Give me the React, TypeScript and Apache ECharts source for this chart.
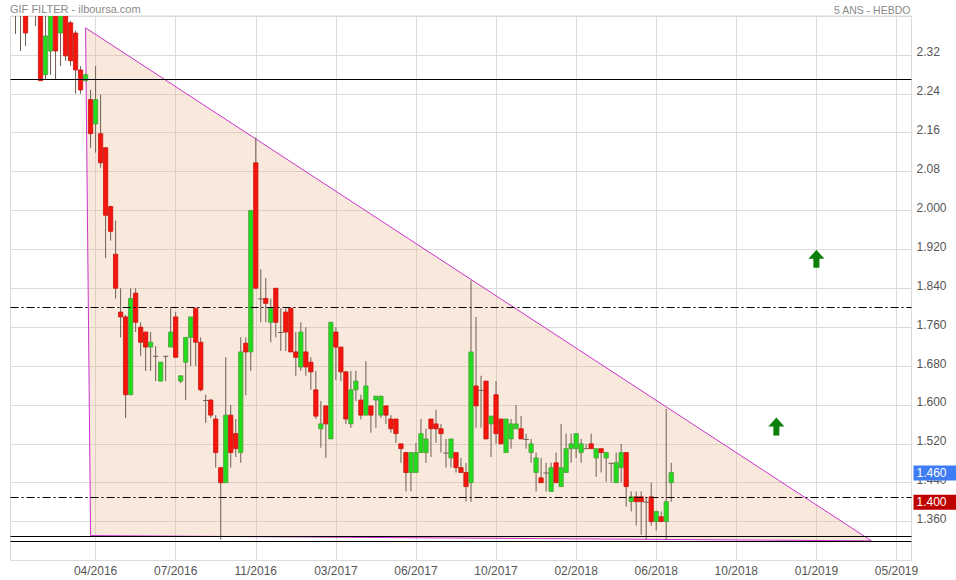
import React, { useEffect, useRef } from 'react';
import * as echarts from 'echarts';

// ---- data ----
const weekCount = 181; // weekly slots on the time axis (data + future space)
const firstLabelWeek = 17;
const labelEvery = 16;
const tickLabels = ['04/2016', '07/2016', '11/2016', '03/2017', '06/2017', '10/2017', '02/2018', '06/2018', '10/2018', '01/2019', '05/2019'];
const yTickStep = 0.08;
const yMin = 1.28;
const yMax = 2.4;

// weekly candles: [open, close, low, high]
const ohlc: number[][] = [
  [2.45, 2.42, 2.41, 2.47], [2.42, 2.41, 2.363, 2.45], [2.44, 2.42, 2.328, 2.46], [2.41, 2.365, 2.338, 2.43],
  [2.42, 2.45, 2.40, 2.47], [2.42, 2.44, 2.379, 2.47], [2.43, 2.267, 2.267, 2.45], [2.279, 2.359, 2.269, 2.40],
  [2.328, 2.42, 2.279, 2.44], [2.42, 2.328, 2.269, 2.44], [2.365, 2.41, 2.297, 2.43], [2.41, 2.318, 2.308, 2.43],
  [2.386, 2.308, 2.297, 2.39], [2.365, 2.289, 2.240, 2.37], [2.289, 2.248, 2.240, 2.297], [2.267, 2.279, 2.265, 2.282],
  [2.228, 2.158, 2.129, 2.248], [2.178, 2.228, 2.119, 2.297], [2.158, 2.098, 2.088, 2.238], [2.129, 1.990, 1.902, 2.13],
  [2.008, 1.957, 1.938, 2.01], [1.910, 1.840, 1.819, 1.979], [1.791, 1.781, 1.739, 1.840], [1.781, 1.621, 1.573, 1.785],
  [1.621, 1.819, 1.62, 1.840], [1.830, 1.770, 1.750, 1.840], [1.760, 1.729, 1.701, 1.770], [1.750, 1.719, 1.670, 1.750],
  [1.719, 1.729, 1.670, 1.750], [1.701, 1.700, 1.649, 1.721], [1.649, 1.688, 1.649, 1.688], [1.701, 1.700, 1.649, 1.701],
  [1.719, 1.750, 1.719, 1.799], [1.781, 1.698, 1.698, 1.791], [1.649, 1.660, 1.645, 1.660], [1.688, 1.739, 1.610, 1.739],
  [1.739, 1.781, 1.680, 1.781], [1.799, 1.729, 1.680, 1.799], [1.729, 1.631, 1.628, 1.739], [1.610, 1.609, 1.563, 1.621],
  [1.610, 1.579, 1.573, 1.612], [1.571, 1.502, 1.471, 1.579], [1.471, 1.440, 1.323, 1.471], [1.440, 1.579, 1.440, 1.698],
  [1.579, 1.502, 1.471, 1.600], [1.541, 1.510, 1.493, 1.571], [1.502, 1.709, 1.481, 1.739], [1.727, 1.709, 1.620, 1.739],
  [1.709, 2.000, 1.670, 2.000], [2.098, 1.840, 1.838, 2.150], [1.819, 1.818, 1.770, 1.879], [1.819, 1.809, 1.770, 1.861],
  [1.770, 1.799, 1.729, 1.819], [1.840, 1.770, 1.739, 1.840], [1.750, 1.749, 1.711, 1.799], [1.791, 1.750, 1.711, 1.799],
  [1.799, 1.709, 1.709, 1.799], [1.709, 1.698, 1.660, 1.750], [1.678, 1.750, 1.670, 1.770], [1.709, 1.678, 1.660, 1.760],
  [1.688, 1.668, 1.631, 1.698], [1.631, 1.577, 1.571, 1.670], [1.551, 1.561, 1.512, 1.608], [1.598, 1.561, 1.491, 1.598],
  [1.530, 1.770, 1.530, 1.770], [1.750, 1.719, 1.651, 1.760], [1.719, 1.668, 1.649, 1.719], [1.668, 1.571, 1.561, 1.670],
  [1.561, 1.631, 1.553, 1.670], [1.631, 1.649, 1.608, 1.670], [1.610, 1.579, 1.570, 1.621], [1.579, 1.639, 1.579, 1.690],
  [1.598, 1.579, 1.543, 1.598], [1.610, 1.618, 1.553, 1.618], [1.579, 1.618, 1.573, 1.618], [1.598, 1.579, 1.561, 1.598],
  [1.571, 1.551, 1.543, 1.579], [1.571, 1.541, 1.522, 1.571], [1.520, 1.510, 1.481, 1.520], [1.502, 1.461, 1.422, 1.502],
  [1.461, 1.502, 1.422, 1.502], [1.461, 1.502, 1.461, 1.522], [1.502, 1.541, 1.502, 1.571], [1.502, 1.530, 1.481, 1.551],
  [1.571, 1.551, 1.493, 1.571], [1.561, 1.551, 1.522, 1.590], [1.551, 1.541, 1.502, 1.561], [1.502, 1.501, 1.471, 1.530],
  [1.491, 1.530, 1.471, 1.530], [1.502, 1.471, 1.461, 1.502], [1.471, 1.461, 1.461, 1.491], [1.461, 1.432, 1.401, 1.481],
  [1.440, 1.709, 1.401, 1.856], [1.639, 1.598, 1.553, 1.781], [1.631, 1.630, 1.553, 1.660], [1.649, 1.530, 1.530, 1.649],
  [1.561, 1.577, 1.493, 1.577], [1.621, 1.541, 1.520, 1.649], [1.571, 1.520, 1.520, 1.571], [1.502, 1.571, 1.502, 1.571],
  [1.530, 1.561, 1.510, 1.571], [1.551, 1.561, 1.551, 1.600], [1.551, 1.530, 1.530, 1.577], [1.530, 1.529, 1.510, 1.541],
  [1.502, 1.520, 1.481, 1.530], [1.461, 1.491, 1.422, 1.502], [1.450, 1.440, 1.440, 1.491], [1.461, 1.460, 1.422, 1.481],
  [1.422, 1.471, 1.422, 1.481], [1.481, 1.440, 1.440, 1.502], [1.432, 1.471, 1.432, 1.561], [1.461, 1.510, 1.461, 1.541],
  [1.510, 1.520, 1.481, 1.541], [1.510, 1.541, 1.491, 1.541], [1.502, 1.520, 1.481, 1.530], [1.511, 1.510, 1.510, 1.520],
  [1.520, 1.510, 1.510, 1.541], [1.491, 1.510, 1.452, 1.510], [1.510, 1.502, 1.461, 1.510], [1.491, 1.502, 1.442, 1.502],
  [1.481, 1.480, 1.440, 1.481], [1.440, 1.481, 1.440, 1.502], [1.471, 1.502, 1.440, 1.520], [1.502, 1.432, 1.391, 1.502],
  [1.401, 1.411, 1.381, 1.422], [1.411, 1.401, 1.352, 1.422], [1.411, 1.401, 1.333, 1.422], [1.401, 1.400, 1.323, 1.411],
  [1.411, 1.360, 1.352, 1.440], [1.360, 1.381, 1.342, 1.381], [1.370, 1.360, 1.360, 1.381], [1.360, 1.401, 1.323, 1.592],
  [1.440, 1.461, 1.401, 1.481],
];

const solidLevels = [2.266, 1.335, 1.3225];
const dashDotLevels = [1.80, 1.4066];
const lastPrice = 1.46;
const refPrice = 1.40;
// triangle drawn on the chart: [week index, price]
const triangle = [[15, 2.3756], [16, 1.3313], [172, 1.3204]];
// up-arrows: [week index, price]
const arrows = [[161, 1.9005], [153, 1.5555]];

const FONT = 'Liberation Sans, Arial, sans-serif';

export default function App() {
  const ref = useRef<HTMLDivElement>(null);

  useEffect(() => {
    if (!ref.current) return;
    const chart = echarts.init(ref.current, undefined, { renderer: 'svg' });
    const weeks = Array.from({ length: weekCount }, (_, i) => String(i));
    const isLabelWeek = (i: number) => i >= firstLabelWeek && (i - firstLabelWeek) % labelEvery === 0;
    const candleData = ohlc.map((d, i) => [i, d[0], d[1], d[2], d[3]]);

    const arrowPath = 'path://M8,0 L16,9 L11,9 L11,18 L5,18 L5,9 L0,9 Z';

    const option: any = {
      animation: false,
      backgroundColor: '#ffffff',
      title: [
        { text: 'GIF FILTER - ilboursa.com', left: 10, top: 3, padding: 0, textStyle: { fontSize: 11, fontWeight: 'normal', color: '#8a8a8a', fontFamily: FONT } },
        { text: '5 ANS - HEBDO', right: 45, top: 4, padding: 0, textStyle: { fontSize: 10.5, fontWeight: 'normal', color: '#8a8a8a', fontFamily: FONT } },
      ],
      grid: { left: 10.5, right: 44.5, top: 16, bottom: 19.5, show: true, borderColor: '#dadada', borderWidth: 1, backgroundColor: 'transparent' },
      xAxis: {
        type: 'category',
        data: weeks,
        boundaryGap: false,
        axisLine: { show: false },
        axisTick: { show: false },
        axisLabel: {
          interval: (i: number) => isLabelWeek(i),
          formatter: (v: string) => {
            const i = parseInt(v, 10);
            return isLabelWeek(i) ? tickLabels[(i - firstLabelWeek) / labelEvery] || '' : '';
          },
          color: '#555',
          fontSize: 12,
          fontFamily: FONT,
          margin: 4,
        },
        splitLine: { show: true, interval: (i: number) => isLabelWeek(i), lineStyle: { color: '#dcdcdc', width: 1 } },
      },
      yAxis: {
        type: 'value',
        position: 'right',
        min: yMin,
        max: yMax,
        interval: yTickStep,
        axisLine: { show: false },
        axisTick: { show: false },
        splitLine: { show: true, lineStyle: { color: '#dcdcdc', width: 1 } },
        axisLabel: {
          showMinLabel: false,
          showMaxLabel: false,
          margin: 5,
          color: '#555',
          fontSize: 12,
          fontFamily: FONT,
          verticalAlign: 'bottom',
          lineHeight: 5,
          formatter: (v: number) => (v > 2.0005 ? v.toFixed(2) : v.toFixed(3)),
        },
      },
      series: [
        {
          type: 'custom',
          name: 'triangle',
          z: 1,
          silent: true,
          data: [[0, 0]],
          renderItem: (params: any, api: any) => {
            const pts = triangle.map((p) => api.coord(p));
            return {
              type: 'polygon',
              shape: { points: pts },
              style: { fill: 'rgba(232,170,120,0.26)', stroke: '#cc33cc', lineWidth: 1 },
            };
          },
        },
        {
          type: 'custom',
          name: 'candles',
          z: 3,
          clip: true,
          silent: true,
          data: candleData,
          encode: { x: 0, y: [1, 2, 3, 4] },
          renderItem: (params: any, api: any) => {
            const i = api.value(0);
            const o = api.value(1);
            const c = api.value(2);
            const l = api.value(3);
            const h = api.value(4);
            const pO = api.coord([i, o]);
            const pC = api.coord([i, c]);
            const pL = api.coord([i, l]);
            const pH = api.coord([i, h]);
            const w = api.size([1, 0])[0] * 0.86;
            const x = pO[0];
            const up = c >= o;
            const doji = Math.abs(c - o) < 0.0025;
            const top = Math.min(pO[1], pC[1]);
            const bot = Math.max(pO[1], pC[1]);
            const children: any[] = [
              {
                type: 'line',
                shape: { x1: x, y1: pH[1], x2: x, y2: pL[1] },
                style: { stroke: '#6e5e52', lineWidth: 1 },
              },
            ];
            if (doji) {
              children.push({
                type: 'line',
                shape: { x1: x - w / 2 - 0.5, y1: pC[1], x2: x + w / 2 + 0.5, y2: pC[1] },
                style: { stroke: '#6e5e52', lineWidth: 1 },
              });
            } else {
              children.push({
                type: 'rect',
                shape: { x: x - w / 2, y: top, width: w, height: Math.max(1, bot - top) },
                style: {
                  fill: up ? '#22dd1c' : '#f5150c',
                  stroke: up ? '#4f9a3e' : '#c8140e',
                  lineWidth: 0.8,
                },
              });
            }
            return { type: 'group', children };
          },
        },
        {
          type: 'line',
          name: 'levels',
          z: 5,
          data: [],
          silent: true,
          markLine: {
            silent: true,
            symbol: 'none',
            animation: false,
            label: { show: false },
            data: [
              ...solidLevels.map((v) => ({ yAxis: v, lineStyle: { color: '#000', width: 1, type: 'solid' } })),
              ...dashDotLevels.map((v) => ({ yAxis: v, lineStyle: { color: '#000', width: 1, type: [8, 3, 2, 3] } })),
              {
                yAxis: lastPrice,
                lineStyle: { color: 'rgba(0,0,0,0)', width: 0 },
                label: {
                  show: true, position: 'end', distance: 2, formatter: lastPrice.toFixed(3),
                  backgroundColor: '#3d7cf5', color: '#fff', fontSize: 12, fontFamily: FONT,
                  padding: [2, 12, 1, 3],
                },
              },
              {
                yAxis: refPrice,
                lineStyle: { color: 'rgba(0,0,0,0)', width: 0 },
                label: {
                  show: true, position: 'end', distance: 2, formatter: refPrice.toFixed(3),
                  backgroundColor: '#bf0000', color: '#fff', fontSize: 12, fontFamily: FONT,
                  padding: [2, 12, 1, 3],
                },
              },
            ],
          },
          markPoint: {
            silent: true,
            animation: false,
            symbol: arrowPath,
            symbolSize: [16, 18],
            itemStyle: { color: '#0a7f0a' },
            label: { show: false },
            data: arrows.map((a) => ({ coord: a })),
          },
        },
      ],
    };

    chart.setOption(option);
    return () => chart.dispose();
  }, []);

  return (
    <div
      ref={ref}
      style={{ position: 'fixed', left: 0, top: 0, width: 956, height: 580, background: '#fff' }}
    />
  );
}
